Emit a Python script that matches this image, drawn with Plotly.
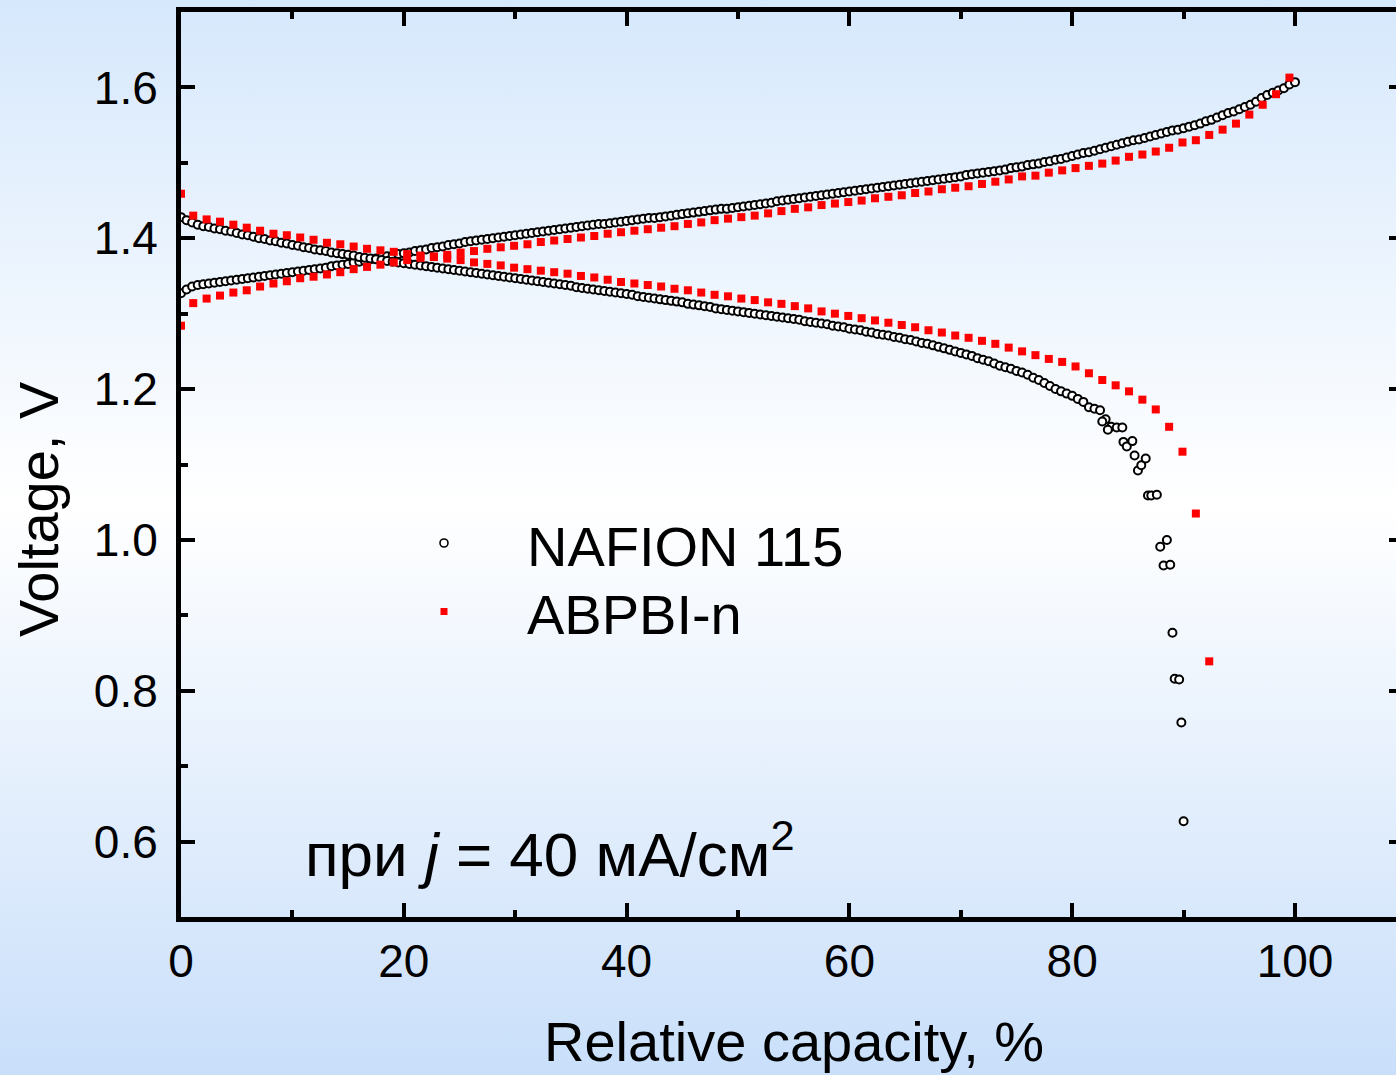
import base64
import plotly.graph_objects as go

# ---------------- data ----------------
nafion_charge_x = [
    0, 0.5, 1, 1.5, 2, 2.5, 3, 3.5, 4, 4.5, 5, 5.5, 6, 6.5, 7, 7.5, 8, 8.5, 9, 9.5,
    10, 10.5, 11, 11.5, 12, 12.5, 13, 13.5, 14, 14.5, 15, 15.5, 16, 16.5, 17, 17.5, 18, 18.5, 19, 19.5,
    20, 20.5, 21, 21.5, 22, 22.5, 23, 23.5, 24, 24.5, 25, 25.5, 26, 26.5, 27, 27.5, 28, 28.5, 29, 29.5,
    30, 30.5, 31, 31.5, 32, 32.5, 33, 33.5, 34, 34.5, 35, 35.5, 36, 36.5, 37, 37.5, 38, 38.5, 39, 39.5,
    40, 40.5, 41, 41.5, 42, 42.5, 43, 43.5, 44, 44.5, 45, 45.5, 46, 46.5, 47, 47.5, 48, 48.5, 49, 49.5,
    50, 50.5, 51, 51.5, 52, 52.5, 53, 53.5, 54, 54.5, 55, 55.5, 56, 56.5, 57, 57.5, 58, 58.5, 59, 59.5,
    60, 60.5, 61, 61.5, 62, 62.5, 63, 63.5, 64, 64.5, 65, 65.5, 66, 66.5, 67, 67.5, 68, 68.5, 69, 69.5,
    70, 70.5, 71, 71.5, 72, 72.5, 73, 73.5, 74, 74.5, 75, 75.5, 76, 76.5, 77, 77.5, 78, 78.5, 79, 79.5,
    80, 80.5, 81, 81.5, 82, 82.5, 83, 83.5, 84, 84.5, 85, 85.5, 86, 86.5, 87, 87.5, 88, 88.5, 89, 89.5,
    90, 90.5, 91, 91.5, 92, 92.5, 93, 93.5, 94, 94.5, 95, 95.5, 96, 96.5, 97, 97.5, 98, 98.5, 99, 99.5,
    100,
]
nafion_charge_v = [
    1.327, 1.332, 1.336, 1.338, 1.339, 1.340, 1.341, 1.342, 1.343, 1.344, 1.345, 1.346, 1.347, 1.348, 1.349, 1.350, 1.351, 1.352, 1.353, 1.354,
    1.355, 1.356, 1.357, 1.358, 1.359, 1.360, 1.361, 1.363, 1.364, 1.365, 1.366, 1.368, 1.369, 1.370, 1.372, 1.373, 1.375, 1.376, 1.377, 1.379,
    1.380, 1.381, 1.383, 1.384, 1.385, 1.387, 1.388, 1.389, 1.391, 1.392, 1.393, 1.395, 1.396, 1.397, 1.398, 1.399, 1.400, 1.401, 1.402, 1.403,
    1.404, 1.405, 1.406, 1.407, 1.408, 1.409, 1.410, 1.411, 1.412, 1.413, 1.414, 1.415, 1.416, 1.417, 1.418, 1.419, 1.419, 1.420, 1.421, 1.422,
    1.423, 1.424, 1.425, 1.426, 1.427, 1.427, 1.428, 1.429, 1.430, 1.431, 1.432, 1.433, 1.434, 1.435, 1.436, 1.437, 1.438, 1.439, 1.439, 1.440,
    1.441, 1.442, 1.443, 1.444, 1.445, 1.446, 1.447, 1.449, 1.450, 1.451, 1.452, 1.453, 1.454, 1.455, 1.456, 1.457, 1.458, 1.459, 1.460, 1.461,
    1.462, 1.463, 1.464, 1.465, 1.466, 1.467, 1.468, 1.469, 1.470, 1.471, 1.472, 1.473, 1.474, 1.475, 1.476, 1.477, 1.478, 1.479, 1.480, 1.481,
    1.482, 1.484, 1.485, 1.486, 1.487, 1.488, 1.489, 1.490, 1.491, 1.493, 1.494, 1.495, 1.497, 1.498, 1.499, 1.501, 1.502, 1.504, 1.505, 1.507,
    1.509, 1.511, 1.513, 1.514, 1.516, 1.518, 1.520, 1.522, 1.524, 1.526, 1.528, 1.530, 1.531, 1.533, 1.535, 1.537, 1.539, 1.541, 1.543, 1.544,
    1.546, 1.548, 1.550, 1.552, 1.555, 1.557, 1.560, 1.563, 1.566, 1.568, 1.571, 1.574, 1.577, 1.581, 1.586, 1.590, 1.593, 1.596, 1.599, 1.604,
    1.607,
]

nafion_discharge_x = [
    0, 0.5, 1, 1.5, 2, 2.5, 3, 3.5, 4, 4.5, 5, 5.5, 6, 6.5, 7, 7.5, 8, 8.5, 9, 9.5,
    10, 10.5, 11, 11.5, 12, 12.5, 13, 13.5, 14, 14.5, 15, 15.5, 16, 16.5, 17, 17.5, 18, 18.5, 19, 19.5,
    20, 20.5, 21, 21.5, 22, 22.5, 23, 23.5, 24, 24.5, 25, 25.5, 26, 26.5, 27, 27.5, 28, 28.5, 29, 29.5,
    30, 30.5, 31, 31.5, 32, 32.5, 33, 33.5, 34, 34.5, 35, 35.5, 36, 36.5, 37, 37.5, 38, 38.5, 39, 39.5,
    40, 40.5, 41, 41.5, 42, 42.5, 43, 43.5, 44, 44.5, 45, 45.5, 46, 46.5, 47, 47.5, 48, 48.5, 49, 49.5,
    50, 50.5, 51, 51.5, 52, 52.5, 53, 53.5, 54, 54.5, 55, 55.5, 56, 56.5, 57, 57.5, 58, 58.5, 59, 59.5,
    60, 60.5, 61, 61.5, 62, 62.5, 63, 63.5, 64, 64.5, 65, 65.5, 66, 66.5, 67, 67.5, 68, 68.5, 69, 69.5,
    70, 70.5, 71, 71.5, 72, 72.5, 73, 73.5, 74, 74.5, 75, 75.5, 76, 76.5, 77, 77.5, 78, 78.5, 79, 79.5,
    80, 80.5, 81, 81.5, 82, 82.5, 83, 83.5, 84, 84.5,
    82.7, 83.2, 84.6, 84.9, 85.4, 85.6, 85.9, 86.2, 86.6, 86.8, 87.1, 87.6, 87.9, 88.5, 88.2, 88.8,
    89.0, 89.2, 89.6, 89.8, 90.0,
]
nafion_discharge_v = [
    1.428, 1.424, 1.421, 1.418, 1.416, 1.415, 1.413, 1.412, 1.410, 1.409, 1.407, 1.405, 1.404, 1.402, 1.400, 1.399, 1.397, 1.396, 1.394, 1.393,
    1.391, 1.390, 1.388, 1.387, 1.385, 1.384, 1.383, 1.381, 1.380, 1.379, 1.378, 1.377, 1.375, 1.374, 1.373, 1.372, 1.371, 1.370, 1.369, 1.368,
    1.367, 1.366, 1.365, 1.364, 1.363, 1.362, 1.361, 1.360, 1.359, 1.358, 1.357, 1.356, 1.355, 1.354, 1.353, 1.352, 1.351, 1.350, 1.349, 1.348,
    1.347, 1.346, 1.345, 1.344, 1.343, 1.342, 1.341, 1.340, 1.339, 1.338, 1.337, 1.335, 1.334, 1.333, 1.332, 1.331, 1.330, 1.329, 1.328, 1.327,
    1.326, 1.325, 1.323, 1.322, 1.321, 1.320, 1.319, 1.318, 1.317, 1.316, 1.315, 1.313, 1.312, 1.311, 1.310, 1.309, 1.307, 1.306, 1.305, 1.304,
    1.303, 1.302, 1.301, 1.300, 1.299, 1.298, 1.297, 1.296, 1.295, 1.294, 1.293, 1.292, 1.290, 1.289, 1.288, 1.287, 1.286, 1.284, 1.283, 1.282,
    1.280, 1.279, 1.278, 1.276, 1.275, 1.273, 1.272, 1.271, 1.269, 1.268, 1.266, 1.265, 1.263, 1.261, 1.260, 1.258, 1.256, 1.254, 1.252, 1.250,
    1.248, 1.246, 1.244, 1.241, 1.239, 1.237, 1.234, 1.231, 1.229, 1.227, 1.224, 1.222, 1.219, 1.215, 1.212, 1.208, 1.204, 1.200, 1.197, 1.194,
    1.191, 1.187, 1.183, 1.176, 1.174, 1.172, 1.160, 1.150, 1.149, 1.149,
    1.157, 1.146, 1.130, 1.124, 1.131, 1.112, 1.092, 1.099, 1.108, 1.059, 1.059, 1.060, 0.991, 1.000, 0.966, 0.967,
    0.877, 0.816, 0.815, 0.758, 0.627,
]

abpbi_charge_x = [
    0, 1.1, 2.3, 3.5, 4.7, 5.9, 7.1, 8.3, 9.5, 10.7, 11.9, 13.1, 14.3, 15.5, 16.7, 17.9, 19.1, 20.3, 21.5, 22.7,
    23.9, 25.1, 26.3, 27.5, 28.7, 29.9, 31.1, 32.3, 33.5, 34.7, 35.9, 37.1, 38.3, 39.5, 40.7, 41.9, 43.1, 44.3, 45.5, 46.7,
    47.9, 49.1, 50.3, 51.5, 52.7, 53.9, 55.1, 56.3, 57.5, 58.7, 59.9, 61.1, 62.3, 63.5, 64.7, 65.9, 67.1, 68.3, 69.5, 70.7,
    71.9, 73.1, 74.3, 75.5, 76.7, 77.9, 79.1, 80.3, 81.5, 82.7, 83.9, 85.1, 86.3, 87.5, 88.7, 89.9, 91.1, 92.3, 93.5, 94.7,
    95.9, 97.1, 98.3, 99.5,
]
abpbi_charge_v = [
    1.284, 1.314, 1.320, 1.324, 1.328, 1.331, 1.336, 1.340, 1.343, 1.347, 1.349, 1.352, 1.355, 1.359, 1.362, 1.365, 1.368, 1.371, 1.374, 1.376,
    1.378, 1.381, 1.383, 1.386, 1.388, 1.390, 1.392, 1.395, 1.397, 1.399, 1.401, 1.403, 1.406, 1.408, 1.410, 1.412, 1.414, 1.416, 1.419, 1.421,
    1.424, 1.426, 1.428, 1.430, 1.433, 1.436, 1.439, 1.441, 1.444, 1.446, 1.448, 1.450, 1.453, 1.455, 1.457, 1.460, 1.462, 1.465, 1.467, 1.469,
    1.472, 1.475, 1.478, 1.482, 1.483, 1.487, 1.490, 1.493, 1.496, 1.499, 1.503, 1.508, 1.511, 1.515, 1.520, 1.527, 1.530, 1.537, 1.544, 1.552,
    1.564, 1.577, 1.591, 1.613,
]

abpbi_discharge_x = [
    0, 1.1, 2.3, 3.5, 4.7, 5.9, 7.1, 8.3, 9.5, 10.7, 11.9, 13.1, 14.3, 15.5, 16.7, 17.9, 19.1, 20.3, 21.5, 22.7,
    23.9, 25.1, 26.3, 27.5, 28.7, 29.9, 31.1, 32.3, 33.5, 34.7, 35.9, 37.1, 38.3, 39.5, 40.7, 41.9, 43.1, 44.3, 45.5, 46.7,
    47.9, 49.1, 50.3, 51.5, 52.7, 53.9, 55.1, 56.3, 57.5, 58.7, 59.9, 61.1, 62.3, 63.5, 64.7, 65.9, 67.1, 68.3, 69.5, 70.7,
    71.9, 73.1, 74.3, 75.5, 76.7, 77.9, 79.1, 80.3, 81.5, 82.7, 83.9, 85.1, 86.3, 87.5, 88.7, 89.9, 91.1, 92.3,
]
abpbi_discharge_v = [
    1.459, 1.430, 1.425, 1.422, 1.418, 1.414, 1.410, 1.406, 1.404, 1.401, 1.398, 1.394, 1.392, 1.389, 1.386, 1.384, 1.382, 1.379, 1.377, 1.375,
    1.373, 1.371, 1.368, 1.366, 1.364, 1.361, 1.359, 1.357, 1.355, 1.353, 1.350, 1.348, 1.345, 1.342, 1.340, 1.338, 1.336, 1.333, 1.331, 1.328,
    1.325, 1.323, 1.320, 1.318, 1.315, 1.313, 1.310, 1.307, 1.303, 1.300, 1.297, 1.294, 1.291, 1.288, 1.285, 1.282, 1.278, 1.275, 1.271, 1.268,
    1.264, 1.260, 1.255, 1.250, 1.245, 1.240, 1.236, 1.230, 1.221, 1.212, 1.205, 1.197, 1.186, 1.173, 1.150, 1.117, 1.035, 0.839,
]

series_names = ["NAFION 115", "ABPBI-n"]
x_ticks = [0, 20, 40, 60, 80, 100]
y_ticks = [0.6, 0.8, 1.0, 1.2, 1.4, 1.6]
x_title = "Relative capacity, %"
y_title = "Voltage, V"
note_text = "при <i>j</i> = 40 мА/см<sup>2</sup>"

# ---------------- layout geometry ----------------
W, H = 1396, 1075
L, R, T, B = 181, 0, 12, 158
PW, PH = W - L - R, H - T - B


def px(xp):
    return (xp - L) / PW


def py(yp):
    return (H - B - yp) / PH


FONT = "Liberation Sans, Arial, sans-serif"

fig = go.Figure()

circ = dict(symbol="circle", size=8, color="white", line=dict(color="black", width=2))
sq = dict(symbol="square", size=8, color="#ff0000", line=dict(width=0))

fig.add_trace(go.Scatter(x=nafion_charge_x, y=nafion_charge_v, mode="markers",
                         marker=circ, name=series_names[0], showlegend=False))
fig.add_trace(go.Scatter(x=nafion_discharge_x, y=nafion_discharge_v, mode="markers",
                         marker=circ, name=series_names[0], showlegend=False))
fig.add_trace(go.Scatter(x=abpbi_charge_x, y=abpbi_charge_v, mode="markers",
                         marker=sq, name=series_names[1], showlegend=False))
fig.add_trace(go.Scatter(x=abpbi_discharge_x, y=abpbi_discharge_v, mode="markers",
                         marker=sq, name=series_names[1], showlegend=False))
# same ABPBI charge data, fully transparent, only to activate the right-hand tick axis
fig.add_trace(go.Scatter(x=abpbi_charge_x, y=abpbi_charge_v, yaxis="y2", mode="markers",
                         marker=dict(size=1, opacity=0), showlegend=False, hoverinfo="skip"))

# background gradient
svg = (
    f'<svg xmlns="http://www.w3.org/2000/svg" width="{W}" height="{H}" preserveAspectRatio="none">'
    '<defs><linearGradient id="g" x1="0" y1="0" x2="0" y2="1">'
    '<stop offset="0" stop-color="#d6e8fc"/>'
    '<stop offset="0.47" stop-color="#ffffff"/>'
    '<stop offset="1" stop-color="#c9dffa"/>'
    '</linearGradient></defs>'
    f'<rect width="{W}" height="{H}" fill="url(#g)"/></svg>'
)
src = "data:image/svg+xml;base64," + base64.b64encode(svg.encode()).decode()
fig.add_layout_image(dict(source=src, xref="paper", yref="paper",
                          x=px(0), y=py(0), sizex=W / PW, sizey=H / PH,
                          xanchor="left", yanchor="top", sizing="stretch", layer="below"))

xr = [0, (W - L) / ((1295 - 181) / 100)]
yr = [0.5, 1.7]

fig.update_layout(
    width=W, height=H,
    margin=dict(l=L, r=R, t=T, b=B, pad=0),
    paper_bgcolor="#ffffff",
    plot_bgcolor="rgba(0,0,0,0)",
    font=dict(family=FONT, color="black"),
    showlegend=False,
    xaxis=dict(
        range=xr, showgrid=False, zeroline=False,
        showline=True, linecolor="black", linewidth=5, mirror="ticks",
        ticks="inside", ticklen=14, tickwidth=4, tickcolor="black",
        tickvals=x_ticks, ticktext=[str(v) for v in x_ticks],
        tickfont=dict(size=46, family=FONT), ticklabelstandoff=0,
        minor=dict(ticks="inside", ticklen=7, tickwidth=4, tickcolor="black", dtick=10, tick0=0, showgrid=False),
    ),
    yaxis=dict(
        range=yr, showgrid=False, zeroline=False,
        showline=True, linecolor="black", linewidth=5, mirror=False,
        ticks="inside", ticklen=14, tickwidth=4, tickcolor="black",
        tickvals=y_ticks, ticktext=[f"{v:.1f}" for v in y_ticks],
        tickfont=dict(size=46, family=FONT), ticklabelstandoff=9,
        minor=dict(ticks="inside", ticklen=7, tickwidth=4, tickcolor="black", dtick=0.1, tick0=0.5, showgrid=False),
    ),
    yaxis2=dict(
        range=yr, overlaying="y", side="right", showgrid=False, zeroline=False,
        showline=False, ticks="inside", ticklen=7, tickwidth=4, tickcolor="black",
        tickvals=y_ticks, showticklabels=False,
    ),
)

# axis titles
fig.add_annotation(text=x_title, xref="paper", yref="paper", x=px(794), y=py(1041),
                   xanchor="center", yanchor="middle", showarrow=False,
                   font=dict(size=56, family=FONT, color="black"))
fig.add_annotation(text=y_title, xref="paper", yref="paper", x=px(38), y=py(509),
                   xanchor="center", yanchor="middle", textangle=-90, showarrow=False,
                   font=dict(size=56, family=FONT, color="black"))

# legend (drawn manually to match spacing)
fig.add_shape(type="circle", xref="paper", yref="paper",
              x0=px(440), x1=px(448), y0=py(547), y1=py(539),
              line=dict(color="black", width=1.6), fillcolor="white")
fig.add_shape(type="rect", xref="paper", yref="paper",
              x0=px(440.5), x1=px(447.5), y0=py(615), y1=py(608),
              line=dict(width=0), fillcolor="#ff0000")
fig.add_annotation(text=series_names[0], xref="paper", yref="paper", x=px(525), y=py(546),
                   xanchor="left", yanchor="middle", showarrow=False,
                   font=dict(size=56, family=FONT, color="black"))
fig.add_annotation(text=series_names[1], xref="paper", yref="paper", x=px(525), y=py(614),
                   xanchor="left", yanchor="middle", showarrow=False,
                   font=dict(size=56, family=FONT, color="black"))

# condition note
fig.add_annotation(text=note_text, xref="paper", yref="paper", x=px(303), y=py(850),
                   xanchor="left", yanchor="middle", showarrow=False,
                   font=dict(size=62, family=FONT, color="black"))

fig.write_html(
    "out.html",
    config={"displayModeBar": False},
    post_script="document.body.style.margin='0';document.body.style.overflow='hidden';",
)
